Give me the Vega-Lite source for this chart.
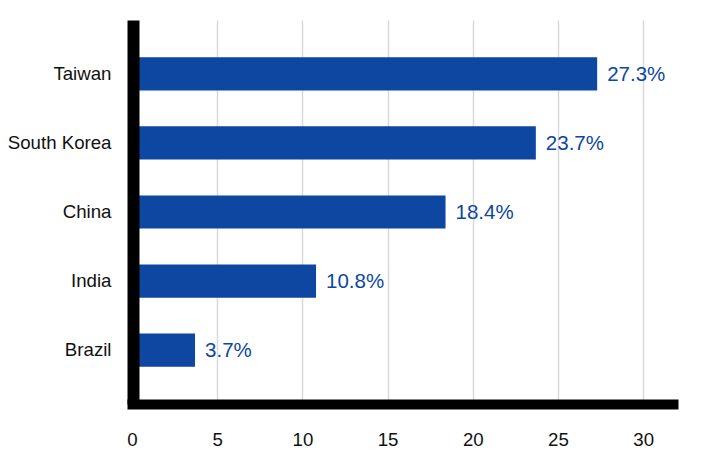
{
  "$schema": "https://vega.github.io/schema/vega-lite/v6.json",
  "width": 541,
  "height": 384,
  "autosize": "none",
  "padding": {"left": 132, "top": 20, "right": 35, "bottom": 64},
  "background": "white",
  "config": {
    "view": {"stroke": null},
    "font": "Liberation Sans"
  },
  "data": {
    "values": [
      {"country": "Taiwan", "share": 27.3, "label": "27.3%"},
      {"country": "South Korea", "share": 23.7, "label": "23.7%"},
      {"country": "China", "share": 18.4, "label": "18.4%"},
      {"country": "India", "share": 10.8, "label": "10.8%"},
      {"country": "Brazil", "share": 3.7, "label": "3.7%"}
    ]
  },
  "encoding": {
    "y": {
      "field": "country",
      "type": "nominal",
      "sort": null,
      "scale": {"paddingInner": 0.52, "paddingOuter": 0.54},
      "axis": {
        "title": null,
        "domainColor": "black",
        "domainWidth": 12,
        "ticks": false,
        "labelFont": "Liberation Sans",
        "labelFontSize": 18.67,
        "labelColor": "#111",
        "labelPadding": 22,
        "offset": -1,
        "zindex": 1
      }
    },
    "x": {
      "field": "share",
      "type": "quantitative",
      "scale": {"domain": [0, 31.75], "nice": false},
      "axis": {
        "title": null,
        "values": [0, 5, 10, 15, 20, 25, 30],
        "domainColor": "black",
        "domainWidth": 10,
        "domainCap": "square",
        "ticks": false,
        "grid": true,
        "gridColor": "#d9d9d9",
        "gridWidth": 1.5,
        "labelFlush": false,
        "labelFont": "Liberation Sans",
        "labelFontSize": 18.67,
        "labelColor": "#111",
        "labelPadding": 26
      }
    }
  },
  "layer": [
    {"mark": {"type": "bar", "color": "#0d47a1"}},
    {
      "mark": {"type": "text", "align": "left", "baseline": "middle", "dx": 10, "dy": 1, "font": "Liberation Sans", "fontSize": 20.5, "color": "#0d47a1"},
      "encoding": {
        "text": {"field": "label", "type": "nominal"}
      }
    }
  ]
}
